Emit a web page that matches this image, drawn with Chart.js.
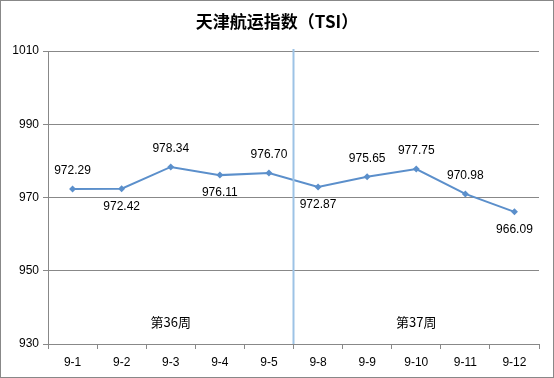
<!DOCTYPE html>
<html>
<head>
<meta charset="utf-8">
<script src="https://cdn.jsdelivr.net/npm/chart.js@4/dist/chart.umd.min.js"></script>
<style>
  html, body { margin: 0; padding: 0; background: #fff; }
  #wrap { width: 554px; height: 378px; position: relative; }
</style>
</head>
<body>
<div id="wrap"><canvas id="c" width="554" height="378"></canvas></div>
<script>
  const categories = ['9-1', '9-2', '9-3', '9-4', '9-5', '9-8', '9-9', '9-10', '9-11', '9-12'];
  const tsiValues = [972.29, 972.42, 978.34, 976.11, 976.70, 972.87, 975.65, 977.75, 970.98, 966.09];
  // label above (1) or below (-1) the point
  const labelSide = [1, -1, 1, -1, 1, -1, 1, 1, 1, -1];
  const weekLabels = ['第36周', '第37周'];
  const weekAt = [2, 7];
  const yTicks = [930, 950, 970, 990, 1010];

  const FONT = '"Liberation Sans", "Noto Sans CJK SC", sans-serif';
  const CJK = '"Noto Sans CJK SC", "Liberation Sans", sans-serif';

  const decorPlugin = {
    id: 'decor',
    afterDatasetsDraw(chart) {
      const { ctx, chartArea } = chart;
      const x = chart.scales.x, y = chart.scales.y;
      ctx.save();
      // week divider
      const dx = (x.getPixelForValue(4) + x.getPixelForValue(5)) / 2;
      ctx.strokeStyle = '#9dc3e6';
      ctx.lineWidth = 2;
      ctx.beginPath();
      ctx.moveTo(dx, chartArea.top - 2);
      ctx.lineTo(dx, chartArea.bottom);
      ctx.stroke();
      // value labels
      ctx.fillStyle = '#000';
      ctx.font = '12px ' + FONT;
      ctx.textAlign = 'center';
      ctx.textBaseline = 'middle';
      tsiValues.forEach((v, i) => {
        const px = x.getPixelForValue(i);
        const py = y.getPixelForValue(v);
        ctx.fillText(v.toFixed(2), px, py - labelSide[i] * 18);
      });
      // week labels
      ctx.font = '13px ' + CJK;
      weekLabels.forEach((t, i) => {
        ctx.fillText(t, x.getPixelForValue(weekAt[i]), chartArea.bottom - 22);
      });
      // title
      ctx.font = 'bold 17px ' + CJK;
      ctx.fillText('天津航运指数（TSI）', chart.width / 2, 22);
      // outer border
      ctx.strokeStyle = '#888';
      ctx.lineWidth = 1;
      ctx.strokeRect(0.5, 0.5, chart.width - 1, chart.height - 1);
      ctx.restore();
    }
  };

  new Chart(document.getElementById('c'), {
    type: 'line',
    plugins: [decorPlugin],
    data: {
      labels: categories,
      datasets: [{
        data: tsiValues,
        borderColor: '#5b8fcb',
        backgroundColor: '#5b8fcb',
        borderWidth: 2,
        tension: 0,
        pointStyle: 'rectRot',
        pointRadius: 3.5,
        pointBorderWidth: 0,
        pointBackgroundColor: '#5b8fcb'
      }]
    },
    options: {
      responsive: false,
      animation: false,
      layout: { padding: { left: 0, right: 15, top: 51, bottom: 0 } },
      plugins: {
        legend: { display: false },
        tooltip: { enabled: false },
        title: { display: false }
      },
      scales: {
        x: {
          type: 'category',
          offset: true,
          grid: { offset: true, drawOnChartArea: false, drawTicks: true, tickLength: 5, color: '#888' },
          border: { color: '#888' },
          ticks: { color: '#000', font: { size: 12, family: FONT }, padding: 6, maxRotation: 0 },
          afterFit(s) { s.height = 34; }
        },
        y: {
          min: 930,
          max: 1010,
          afterBuildTicks(s) { s.ticks = yTicks.map(v => ({ value: v })); },
          grid: { color: '#888', tickLength: 5 },
          border: { color: '#888' },
          ticks: { color: '#000', font: { size: 12, family: FONT }, padding: 4, callback: v => String(v) },
          afterFit(s) { s.width = 48; }
        }
      }
    }
  });
</script>
</body>
</html>
